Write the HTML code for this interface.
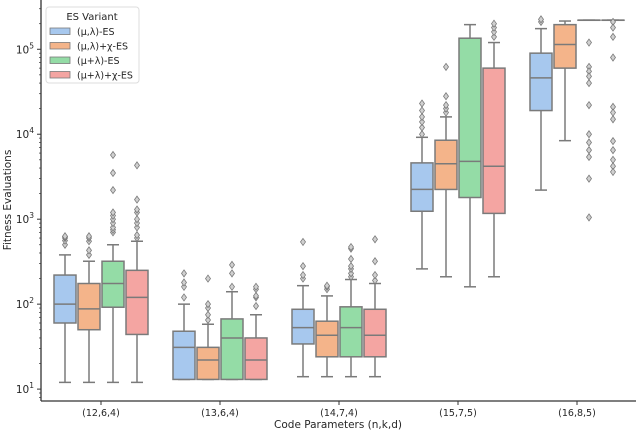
<!DOCTYPE html>
<html><head><meta charset="utf-8"><style>
body{margin:0;background:#fff;font-family:"Liberation Sans","DejaVu Sans",sans-serif}
svg text{font-family:"DejaVu Sans","Liberation Sans",sans-serif;fill:#262626}
</style></head><body>
<svg id="chart" width="640" height="432" viewBox="0 0 640 432"></svg>
<script>
const categories=["(12,6,4)","(13,6,4)","(14,7,4)","(15,7,5)","(16,8,5)"];
const seriesNames=["(μ,λ)-ES","(μ,λ)+χ-ES","(μ+λ)-ES","(μ+λ)+χ-ES"];
const colors=["#a7c8ee","#f4b48a","#94dca6","#f4a5a2"];
const yTickValues=[10,100,1000,10000,100000];
const yTickLabels=["1","2","3","4","5"];
// [whisLo,q1,median,q3,whisHi]
const statsMuLambda=[[12,60,100,220,380],[13,13,31,48,100],[14,34,53,87,165],[260,1240,2240,4600,9200],[2200,19000,46000,90000,175000]];
const statsMuLambdaX=[[12,50,88,175,320],[13,13,22,31,58],[14,24,43,63,125],[210,2240,4500,8500,16000],[8400,60000,114000,195000,215000]];
const statsMuPlusLambda=[[12,92,175,320,500],[13,13,40,67,140],[14,24,53,93,195],[160,1800,4800,135000,195000],[220000,220000,220000,220000,220000]];
const statsMuPlusLambdaX=[[12,44,120,250,550],[13,13,22,40,75],[14,24,43,87,175],[210,1170,4200,60000,120000],[220000,220000,220000,220000,220000]];
const outMuLambda=[[500,560,600,620,630],[120,160,180,230],[200,220,280,540],[10000,12000,14000,16000,19000,23000],[210000,225000]];
const outMuLambdaX=[[380,430,550,600,630],[65,75,90,100,200],[150,160,165],[18000,20000,22000,28000,62000],[]];
const outMuPlusLambda=[[700,750,800,900,1000,1100,1200,2200,3500,5700],[160,230,290],[210,230,260,280,340,450,470],[],[120000,62000,55000,48000,40000,22000,10000,8000,6500,5400,3000,1050]];
const outMuPlusLambdaX=[[600,650,800,900,1000,1200,1300,1700,4300],[95,120,125,150,160],[190,220,320,580],[140000,160000,180000,200000],[210000,180000,140000,80000,21000,18000,15000,8300,6500,5000,4200,3600]];
const allStats=[statsMuLambda,statsMuLambdaX,statsMuPlusLambda,statsMuPlusLambdaX];
const allOut=[outMuLambda,outMuLambdaX,outMuPlusLambda,outMuPlusLambdaX];

const svg=document.getElementById('chart');
const NS="http://www.w3.org/2000/svg";
const L=41,B=401,T=0,R=636;
const yMin=0.86,yMax=5.58;
function y(v){return B-(Math.log10(v)-yMin)/(yMax-yMin)*(B-T);}
const gStep=119;
function xc(i){return 101+i*gStep;}
const bw=24;
function mk(tag,attrs,parent){const e=document.createElementNS(NS,tag);for(const k in attrs)e.setAttribute(k,attrs[k]);(parent||svg).appendChild(e);return e;}
const edge="#7a7a7a";
allStats.forEach((st,s)=>{
  st.forEach((d,i)=>{
    const cx=xc(i)+(s-1.5)*bw;
    const g=mk('g',{});
    
    
    const x0=cx-bw/2+1,x1=cx+bw/2-1;
    mk('line',{x1:cx,x2:cx,y1:y(d[0]),y2:y(d[1]),stroke:edge,'stroke-width':1.5},g);
    mk('line',{x1:cx,x2:cx,y1:y(d[3]),y2:y(d[4]),stroke:edge,'stroke-width':1.5},g);
    mk('line',{x1:cx-6,x2:cx+6,y1:y(d[0]),y2:y(d[0]),stroke:edge,'stroke-width':1.5},g);
    mk('line',{x1:cx-6,x2:cx+6,y1:y(d[4]),y2:y(d[4]),stroke:edge,'stroke-width':1.5},g);
    mk('rect',{x:x0,y:y(d[3]),width:x1-x0,height:Math.max(0.1,y(d[1])-y(d[3])),fill:colors[s],stroke:edge,'stroke-width':1.5},g);
    mk('line',{x1:x0,x2:x1,y1:y(d[2]),y2:y(d[2]),stroke:edge,'stroke-width':1.5},g);
    allOut[s][i].forEach(v=>{
      const p=mk('path',{d:`M${cx} ${y(v)-3.5}L${cx+2.5} ${y(v)}L${cx} ${y(v)+3.5}L${cx-2.5} ${y(v)}Z`,fill:'#d0d0d0',stroke:edge,'stroke-width':0.8},g);
      
      
    });
  });
});
const ax=mk('g',{});


mk('line',{x1:L,x2:L,y1:T,y2:B,stroke:'#333','stroke-width':1.3},ax);
mk('line',{x1:L,x2:R,y1:B,y2:B,stroke:'#333','stroke-width':1.3},ax);
yTickValues.forEach((v,i)=>{
  mk('line',{x1:L-4,x2:L,y1:y(v),y2:y(v),stroke:'#333','stroke-width':1},ax);
  const t=mk('text',{x:L-7,y:y(v)+4,'font-size':10.5,'text-anchor':'end'},ax);
  t.innerHTML='10<tspan dy="-5" font-size="7.5">'+yTickLabels[i]+'</tspan>';
  
  
});
for(let e=0;e<=5;e++)for(let m=2;m<=9;m++){const v=m*Math.pow(10,e);if(Math.log10(v)<yMin||Math.log10(v)>yMax)continue;mk('line',{x1:L-2,x2:L,y1:y(v),y2:y(v),stroke:'#333','stroke-width':0.7},ax);}
categories.forEach((c,i)=>{
  mk('line',{x1:xc(i),x2:xc(i),y1:B,y2:B+4,stroke:'#333','stroke-width':1},ax);
  const t=mk('text',{x:xc(i),y:B+15,'font-size':9.5,'text-anchor':'middle'},ax);
  t.textContent=c;
  
  
});
const xt=mk('text',{x:338,y:428,'font-size':10.5,'text-anchor':'middle'});
xt.textContent='Code Parameters (n,k,d)';


const yt=mk('text',{x:11,y:200,'font-size':10.5,'text-anchor':'middle',transform:'rotate(-90 11 200)'});
yt.textContent='Fitness Evaluations';


const lg=mk('g',{});


mk('rect',{x:46,y:7,width:93,height:76,rx:3,fill:'#fff',stroke:'#ddd','stroke-width':1},lg);
const lt=mk('text',{x:92,y:20,'font-size':10,'text-anchor':'middle'},lg);lt.textContent='ES Variant';
seriesNames.forEach((n,i)=>{
  const e=mk('g',{},lg);
  
  
  mk('rect',{x:50,y:28+i*14.5,width:20,height:6.5,fill:colors[i],stroke:edge,'stroke-width':0.8},e);
  const t=mk('text',{x:77,y:35+i*14.5,'font-size':9.5},e);t.textContent=n;
});
</script>
</body></html>
